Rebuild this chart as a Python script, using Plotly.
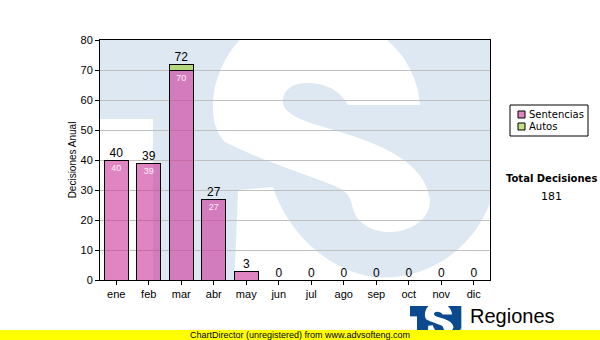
import plotly.graph_objects as go

# ---------------- data ----------------
meses = ["ene", "feb", "mar", "abr", "may", "jun", "jul", "ago", "sep", "oct", "nov", "dic"]
sentencias = [40, 39, 70, 27, 3, 0, 0, 0, 0, 0, 0, 0]
autos = [0, 0, 2, 0, 0, 0, 0, 0, 0, 0, 0, 0]
totales = [s + a for s, a in zip(sentencias, autos)]
total_decisiones = sum(totales)
y_ticks = [0, 10, 20, 30, 40, 50, 60, 70, 80]
series_names = ["Sentencias", "Autos"]

# ---------------- styling ----------------
W, H = 600, 340
L, R, T, B = 100, 490, 40, 280          # plot area in pixels
FONT = "Liberation Sans, Arial, sans-serif"
FONT2 = "DejaVu Sans, Verdana, sans-serif"
C_SENT = "rgba(204,51,153,0.6)"
C_AUTO = "rgba(153,204,51,0.6)"
WM_BLUE = "#dee8f2"
LOGO_BLUE = "#0b4a8e"


def to_paper(x, y):
    return ((x - L) / (R - L), (B - y) / (B - T))


def build_path(cmds, tf=lambda x, y: (x, y)):
    out = []
    for c, pts in cmds:
        s = c
        for (x, y) in pts:
            px, py = to_paper(*tf(x, y))
            s += f" {px:.5f},{py:.5f}"
        out.append(s)
    return " ".join(out)


# watermark logo geometry (pixel space of the plot area)
S_PATH = [
    ("M", [(240, 40)]), ("L", [(387, 40)]),
    ("C", [(405, 55), (418, 78), (420, 105)]),
    ("L", [(348, 105)]),
    ("C", [(340, 90), (325, 83), (307, 83)]),
    ("C", [(290, 83), (282, 92), (283, 103)]),
    ("C", [(284, 113), (300, 120), (320, 126)]),
    ("C", [(370, 140), (425, 158), (430, 200)]),
    ("C", [(430, 220), (410, 232), (390, 232)]),
    ("C", [(370, 232), (355, 222), (352, 205)]),
    ("C", [(350, 195), (345, 190), (335, 186)]),
    ("C", [(300, 172), (260, 160), (225, 142)]),
    ("C", [(218, 135), (213, 125), (213, 107)]),
    ("C", [(213, 80), (225, 55), (240, 40)]),
    ("Z", []),
]
TAIL_PATH = [
    ("M", [(238, 190)]), ("L", [(273, 187)]),
    ("C", [(285, 225), (320, 268), (373, 277)]),
    ("C", [(420, 282), (470, 255), (490, 203)]),
    ("L", [(490, 280)]), ("L", [(234, 280)]),
    ("C", [(236, 250), (237, 220), (238, 190)]),
    ("Z", []),
]
NOTCH_PATH = [("M", [(100, 119)]), ("L", [(153, 119)]), ("L", [(153, 280)]), ("L", [(100, 280)]), ("Z", [])]
BOX_PATH = [("M", [(100, 40)]), ("L", [(490, 40)]), ("L", [(490, 280)]), ("L", [(100, 280)]), ("Z", [])]

shapes = []
# watermark (below grid and bars)
for p, col in [(BOX_PATH, WM_BLUE), (NOTCH_PATH, "white"), (S_PATH, "white"), (TAIL_PATH, "white")]:
    shapes.append(dict(type="path", xref="paper", yref="paper", layer="below",
                       path=build_path(p), fillcolor=col, line=dict(width=0)))

# small logo at the bottom
sc = 50 / 380
small_tf = lambda x, y: (410 + (x - 100) * sc, 306 + (y - 40) * sc)
for p, col in [(BOX_PATH, LOGO_BLUE), (NOTCH_PATH, "white"), (S_PATH, "white"), (TAIL_PATH, "white")]:
    shapes.append(dict(type="path", xref="paper", yref="paper", layer="above",
                       path=build_path(p, small_tf), fillcolor=col, line=dict(width=0)))

# yellow footer
fx0, fy0 = to_paper(0, 330)
fx1, fy1 = to_paper(600, 340)
shapes.append(dict(type="rect", xref="paper", yref="paper", layer="above",
                   x0=fx0, x1=fx1, y0=fy1, y1=fy0, fillcolor="#ffff00", line=dict(width=0)))

# legend box
lx0, ly0 = to_paper(510, 105)
lx1, ly1 = to_paper(588, 136)
shapes.append(dict(type="rect", xref="paper", yref="paper", layer="above",
                   x0=lx0, x1=lx1, y0=ly1, y1=ly0, fillcolor="white",
                   line=dict(color="black", width=1)))
for i, col in enumerate([C_SENT, C_AUTO]):
    top = 111 + i * 12
    sx0, sy0 = to_paper(518, top)
    sx1, sy1 = to_paper(525, top + 7)
    shapes.append(dict(type="rect", xref="paper", yref="paper", layer="above",
                       x0=sx0, x1=sx1, y0=sy1, y1=sy0, fillcolor=col,
                       line=dict(color="black", width=1)))

annotations = []
for i, name in enumerate(series_names):
    ax, ay = to_paper(527, 114.5 + i * 12)
    annotations.append(dict(x=ax, y=ay, xref="paper", yref="paper", text=name,
                            showarrow=False, xanchor="left", yanchor="middle",
                            font=dict(family=FONT2, size=10, color="black")))

tx, ty = to_paper(551, 178)
annotations.append(dict(x=tx, y=ty, xref="paper", yref="paper", text="<b>Total Decisiones</b>",
                        showarrow=False, xanchor="center", yanchor="middle",
                        font=dict(family=FONT2, size=10, color="black")))
tx, ty = to_paper(551, 196)
annotations.append(dict(x=tx, y=ty, xref="paper", yref="paper", text=str(total_decisiones),
                        showarrow=False, xanchor="center", yanchor="middle",
                        font=dict(family=FONT2, size=11, color="black")))
tx, ty = to_paper(300, 335)
annotations.append(dict(x=tx, y=ty, xref="paper", yref="paper",
                        text="ChartDirector (unregistered) from www.advsofteng.com",
                        showarrow=False, xanchor="center", yanchor="middle",
                        font=dict(family=FONT, size=9, color="black")))
tx, ty = to_paper(468, 316)
annotations.append(dict(x=tx, y=ty, xref="paper", yref="paper", text="Regiones",
                        showarrow=False, xanchor="left", yanchor="middle",
                        font=dict(family=FONT, size=20, color="black")))

fig = go.Figure()
fig.add_trace(go.Bar(
    x=meses, y=sentencias, name=series_names[0],
    marker=dict(color=C_SENT, line=dict(color="black", width=1)),
    text=[str(v) if v > 0 else "" for v in sentencias],
    textposition="inside", insidetextanchor="end", textangle=0,
    textfont=dict(family=FONT, size=9, color="#fdeef7"),
    hoverinfo="skip",
))
fig.add_trace(go.Bar(
    x=meses, y=autos, name=series_names[1],
    marker=dict(color=C_AUTO, line=dict(color="black", width=1)),
    hoverinfo="skip",
))
fig.add_trace(go.Scatter(
    x=meses, y=totales, mode="text", text=[str(t) for t in totales],
    textposition="top center", textfont=dict(family=FONT, size=12, color="black"),
    cliponaxis=False, hoverinfo="skip", showlegend=False,
))

fig.update_layout(
    width=W, height=H,
    margin=dict(l=L, r=W - R, t=T, b=H - B, pad=0),
    paper_bgcolor="white", plot_bgcolor="rgba(0,0,0,0)",
    barmode="stack", bargap=0.27,
    showlegend=False,
    uniformtext=dict(minsize=9, mode="hide"),
    font=dict(family=FONT, size=11, color="black"),
    shapes=shapes, annotations=annotations,
    xaxis=dict(
        type="category", range=[-0.5, len(meses) - 0.5], autorange=False, automargin=False,
        showgrid=False, showline=True, linecolor="black", linewidth=1,
        mirror=True, ticks="outside", ticklen=4, tickcolor="black",
        tickfont=dict(family=FONT, size=11, color="black"), fixedrange=True,
    ),
    yaxis=dict(
        range=[0, 80], autorange=False, automargin=False, tickvals=y_ticks,
        showgrid=True, gridcolor="#c0c0c0", gridwidth=1,
        showline=True, linecolor="black", linewidth=1, mirror=True,
        ticks="outside", ticklen=4, tickcolor="black", zeroline=False,
        tickfont=dict(family=FONT, size=11, color="black"),
        title=dict(text="Decisiones Anual", font=dict(family=FONT, size=10, color="black"), standoff=2),
        fixedrange=True,
    ),
)

fig.write_html("out.html", config={"displayModeBar": False})
